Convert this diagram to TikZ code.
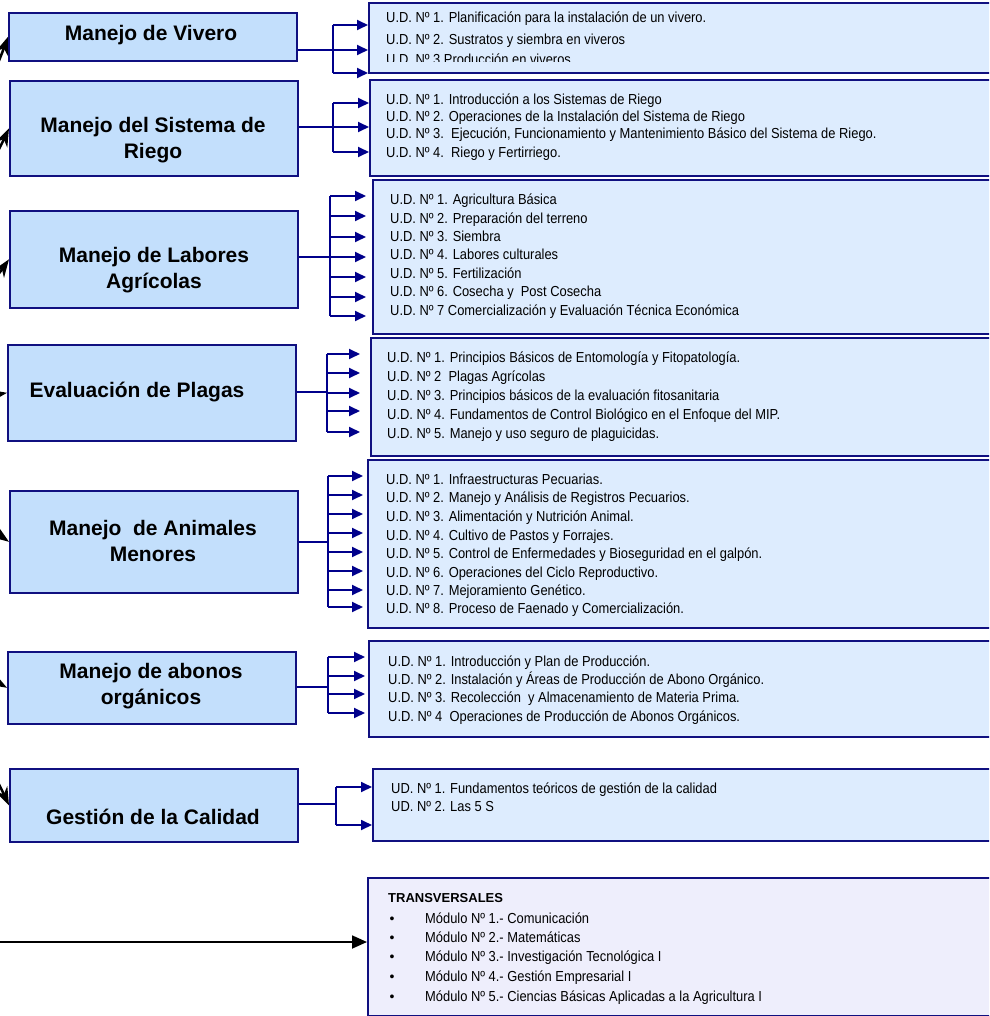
\documentclass[tikz,border=0pt]{standalone}
\usepackage{fontspec}
\setmainfont{Liberation Sans}
\newfontfamily\nrw[FakeStretch=0.89]{Liberation Sans}
\usetikzlibrary{arrows.meta}
\definecolor{lbfill}{RGB}{195,223,252}
\definecolor{rbfill}{RGB}{221,236,254}
\definecolor{tbfill}{RGB}{238,238,252}
\definecolor{bord}{RGB}{16,16,128}
\definecolor{arw}{RGB}{0,0,139}
\tikzstyle{lb}=[draw=bord,fill=lbfill,line width=1.6pt,anchor=north west,minimum width=288pt,inner sep=0pt]
\tikzstyle{rb}=[draw=bord,fill=rbfill,line width=1.8pt,anchor=north west,minimum width=640pt,inner sep=0pt]
\tikzstyle{lt}=[font=\bfseries\fontsize{21}{26}\selectfont,align=center,inner sep=0pt]
\tikzstyle{ut}=[font=\nrw\fontsize{14.5}{17}\selectfont,anchor=base west,inner sep=0pt]
\tikzstyle{dot}=[font=\fontsize{14}{16}\selectfont,anchor=base,inner sep=0pt]
\tikzstyle{fl}=[draw=arw,line width=1.8pt]
\tikzstyle{fa}=[draw=arw,line width=1.8pt,-{Triangle[length=11pt,width=10pt]}]
\tikzstyle{ba}=[line width=2.5pt,-{Stealth[length=18pt,width=13pt]}]

\begin{document}
\begin{tikzpicture}[x=1pt,y=-1pt]
\useasboundingbox (0,0) rectangle (989,1016);
\clip (0,0) rectangle (989,1016);

\node[lb,minimum height=48pt] (b1) at (8,12) {};
\node[lb,minimum height=95pt] (b2) at (9,80) {};
\node[lb,minimum height=97pt] (b3) at (9,210) {};
\node[lb,minimum height=96pt] (b4) at (7,344) {};
\node[lb,minimum height=102pt] (b5) at (9,490) {};
\node[lb,minimum height=72pt] (b6) at (7,651) {};
\node[lb,minimum height=73pt] (b7) at (9,768) {};

\node[lt] (t1) at (151,35) {Manejo de Vivero};
\node[lt] (t2) at (153,140) {Manejo del Sistema de\\Riego};
\node[lt] (t3) at (154,270) {Manejo de Labores\\Agrícolas};
\node[lt] (t4) at (137,392) {Evaluación de Plagas};
\node[lt] (t5) at (153,541) {Manejo\ \ de Animales\\Menores};
\node[lt] (t6) at (151,686) {Manejo de abonos\\orgánicos};
\node[lt] (t7) at (153,817) {Gestión de la Calidad};

\node[rb,minimum height=70pt] (r1) at (368,2) {};
\node[rb,minimum height=96pt] (r2) at (369,79) {};
\node[rb,minimum height=154pt] (r3) at (372,179) {};
\node[rb,minimum height=118pt] (r4) at (370,337) {};
\node[rb,minimum height=168pt] (r5) at (367,459) {};
\node[rb,minimum height=96pt] (r6) at (368,640) {};
\node[rb,minimum height=72pt] (r7) at (372,768) {};
\node[rb,fill=tbfill,minimum height=138pt] (tr) at (367,877) {};

\node[ut] (u11) at (386,23) {U.D. Nº 1. Planificación para la instalación de un vivero.};
\node[ut] (u12) at (386,45) {U.D. Nº 2. Sustratos y siembra en viveros};
\begin{scope}
\clip (368,2) rectangle (989,62);
\node[ut] (u13) at (386,65) {U.D. Nº 3.Producción en viveros};
\end{scope}

\node[ut] (u21) at (386,105) {U.D. Nº 1. Introducción a los Sistemas de Riego};
\node[ut] (u22) at (386,122) {U.D. Nº 2. Operaciones de la Instalación del Sistema de Riego};
\node[ut] (u23) at (386,139) {U.D. Nº 3.\ \ Ejecución, Funcionamiento y Mantenimiento Básico del Sistema de Riego.};
\node[ut] (u24) at (386,158) {U.D. Nº 4.\ \ Riego y Fertirriego.};

\node[ut] (u31) at (390,205) {U.D. Nº 1. Agricultura Básica};
\node[ut] (u32) at (390,223) {U.D. Nº 2. Preparación del terreno};
\node[ut] (u33) at (390,241) {U.D. Nº 3. Siembra};
\node[ut] (u34) at (390,259) {U.D. Nº 4. Labores culturales};
\node[ut] (u35) at (390,278) {U.D. Nº 5. Fertilización};
\node[ut] (u36) at (390,296) {U.D. Nº 6. Cosecha y\ \ Post Cosecha};
\node[ut] (u37) at (390,315) {U.D. Nº 7 Comercialización y Evaluación Técnica Económica};

\node[ut] (u41) at (387,362) {U.D. Nº 1. Principios Básicos de Entomología y Fitopatología.};
\node[ut] (u42) at (387,381) {U.D. Nº 2\ \ Plagas Agrícolas};
\node[ut] (u43) at (387,400) {U.D. Nº 3. Principios básicos de la evaluación fitosanitaria};
\node[ut] (u44) at (387,419) {U.D. Nº 4. Fundamentos de Control Biológico en el Enfoque del MIP.};
\node[ut] (u45) at (387,438) {U.D. Nº 5. Manejo y uso seguro de plaguicidas.};

\node[ut] (u51) at (386,484) {U.D. Nº 1. Infraestructuras Pecuarias.};
\node[ut] (u52) at (386,502) {U.D. Nº 2. Manejo y Análisis de Registros Pecuarios.};
\node[ut] (u53) at (386,521) {U.D. Nº 3. Alimentación y Nutrición Animal.};
\node[ut] (u54) at (386,540) {U.D. Nº 4. Cultivo de Pastos y Forrajes.};
\node[ut] (u55) at (386,558) {U.D. Nº 5. Control de Enfermedades y Bioseguridad en el galpón.};
\node[ut] (u56) at (386,577) {U.D. Nº 6. Operaciones del Ciclo Reproductivo.};
\node[ut] (u57) at (386,595) {U.D. Nº 7. Mejoramiento Genético.};
\node[ut] (u58) at (386,613) {U.D. Nº 8. Proceso de Faenado y Comercialización.};

\node[ut] (u61) at (388,666) {U.D. Nº 1. Introducción y Plan de Producción.};
\node[ut] (u62) at (388,684) {U.D. Nº 2. Instalación y Áreas de Producción de Abono Orgánico.};
\node[ut] (u63) at (388,702) {U.D. Nº 3. Recolección\ \ y Almacenamiento de Materia Prima.};
\node[ut] (u64) at (388,721) {U.D. Nº 4\ \ Operaciones de Producción de Abonos Orgánicos.};

\node[ut] (u71) at (391,793) {UD. Nº 1. Fundamentos teóricos de gestión de la calidad};
\node[ut] (u72) at (391,811) {UD. Nº 2. Las 5 S};

\node[ut,font=\bfseries\fontsize{13}{15}\selectfont] (tt) at (388,902) {TRANSVERSALES};
\node[dot] (d1) at (392,923) {•};
\node[dot] (d2) at (392,942) {•};
\node[dot] (d3) at (392,961) {•};
\node[dot] (d4) at (392,981) {•};
\node[dot] (d5) at (392,1001) {•};
\node[ut] (m1) at (425,923) {Módulo Nº 1.- Comunicación};
\node[ut] (m2) at (425,942) {Módulo Nº 2.- Matemáticas};
\node[ut] (m3) at (425,961) {Módulo Nº 3.- Investigación Tecnológica I};
\node[ut] (m4) at (425,981) {Módulo Nº 4.- Gestión Empresarial I};
\node[ut] (m5) at (425,1001) {Módulo Nº 5.- Ciencias Básicas Aplicadas a la Agricultura I};

\coordinate (k1) at (333,50);
\coordinate (k2) at (333,127);
\coordinate (k3) at (330,257);
\coordinate (k4) at (327,392);
\coordinate (k5) at (328,542);
\coordinate (k6) at (328,687);
\coordinate (k7) at (336,804);

\draw[fl] (b1.east |- k1) -- (k1);
\draw[fl] (k1 |- 0,25) -- (k1 |- 0,73);
\draw[fa] (k1 |- 0,25) -- (r1.west |- 0,25);
\draw[fa] (k1 |- 0,50) -- (r1.west |- 0,50);
\draw[fa] (k1 |- 0,73) -- (r1.west |- 0,73);

\draw[fl] (b2.east |- k2) -- (k2);
\draw[fl] (k2 |- 0,103) -- (k2 |- 0,152);
\draw[fa] (k2 |- 0,103) -- (r2.west |- 0,103);
\draw[fa] (k2 |- 0,127) -- (r2.west |- 0,127);
\draw[fa] (k2 |- 0,152) -- (r2.west |- 0,152);

\draw[fl] (b3.east |- k3) -- (k3);
\draw[fl] (k3 |- 0,196) -- (k3 |- 0,316);
\draw[fa,shorten >=6pt] (k3 |- 0,196) -- (r3.west |- 0,196);
\draw[fa,shorten >=6pt] (k3 |- 0,216) -- (r3.west |- 0,216);
\draw[fa,shorten >=6pt] (k3 |- 0,237) -- (r3.west |- 0,237);
\draw[fa,shorten >=6pt] (k3 |- 0,257) -- (r3.west |- 0,257);
\draw[fa,shorten >=6pt] (k3 |- 0,277) -- (r3.west |- 0,277);
\draw[fa,shorten >=6pt] (k3 |- 0,297) -- (r3.west |- 0,297);
\draw[fa,shorten >=6pt] (k3 |- 0,316) -- (r3.west |- 0,316);

\draw[fl] (b4.east |- k4) -- (k4);
\draw[fl] (k4 |- 0,354) -- (k4 |- 0,432);
\draw[fa,shorten >=10pt] (k4 |- 0,354) -- (r4.west |- 0,354);
\draw[fa,shorten >=10pt] (k4 |- 0,373) -- (r4.west |- 0,373);
\draw[fa,shorten >=10pt] (k4 |- 0,393) -- (r4.west |- 0,393);
\draw[fa,shorten >=10pt] (k4 |- 0,411) -- (r4.west |- 0,411);
\draw[fa,shorten >=10pt] (k4 |- 0,432) -- (r4.west |- 0,432);

\draw[fl] (b5.east |- k5) -- (k5);
\draw[fl] (k5 |- 0,476) -- (k5 |- 0,607);
\draw[fa,shorten >=4pt] (k5 |- 0,476) -- (r5.west |- 0,476);
\draw[fa,shorten >=4pt] (k5 |- 0,495) -- (r5.west |- 0,495);
\draw[fa,shorten >=4pt] (k5 |- 0,514) -- (r5.west |- 0,514);
\draw[fa,shorten >=4pt] (k5 |- 0,533) -- (r5.west |- 0,533);
\draw[fa,shorten >=4pt] (k5 |- 0,552) -- (r5.west |- 0,552);
\draw[fa,shorten >=4pt] (k5 |- 0,571) -- (r5.west |- 0,571);
\draw[fa,shorten >=4pt] (k5 |- 0,590) -- (r5.west |- 0,590);
\draw[fa,shorten >=4pt] (k5 |- 0,607) -- (r5.west |- 0,607);

\draw[fl] (b6.east |- k6) -- (k6);
\draw[fl] (k6 |- 0,657) -- (k6 |- 0,713);
\draw[fa,shorten >=3pt] (k6 |- 0,657) -- (r6.west |- 0,657);
\draw[fa,shorten >=3pt] (k6 |- 0,676) -- (r6.west |- 0,676);
\draw[fa,shorten >=3pt] (k6 |- 0,694) -- (r6.west |- 0,694);
\draw[fa,shorten >=3pt] (k6 |- 0,713) -- (r6.west |- 0,713);

\draw[fl] (b7.east |- k7) -- (k7);
\draw[fl] (k7 |- 0,787) -- (k7 |- 0,825);
\draw[fa] (k7 |- 0,787) -- (r7.west |- 0,787);
\draw[fa] (k7 |- 0,825) -- (r7.west |- 0,825);

\coordinate (hub) at (-300,460);
\draw[ba] (hub) to[out=80,in=-110] (b1.west);
\draw[ba] (hub) to[out=80,in=-115] (b2.west);
\draw[ba] (hub) to[out=70,in=-125] (b3.west);
\draw[ba] (hub) to[out=10,in=190] (b4.west);
\draw[ba] (hub) to[out=-40,in=145] (b5.west);
\draw[ba] (hub) to[out=-60,in=150] (b6.west);
\draw[ba] (hub) to[out=-70,in=115] (b7.west);

\coordinate (tin) at (-10,942);
\draw[line width=1.8pt,-{Triangle[length=15pt,width=13pt]}] (tin) -- (tin -| tr.west);
\end{tikzpicture}
\end{document}
